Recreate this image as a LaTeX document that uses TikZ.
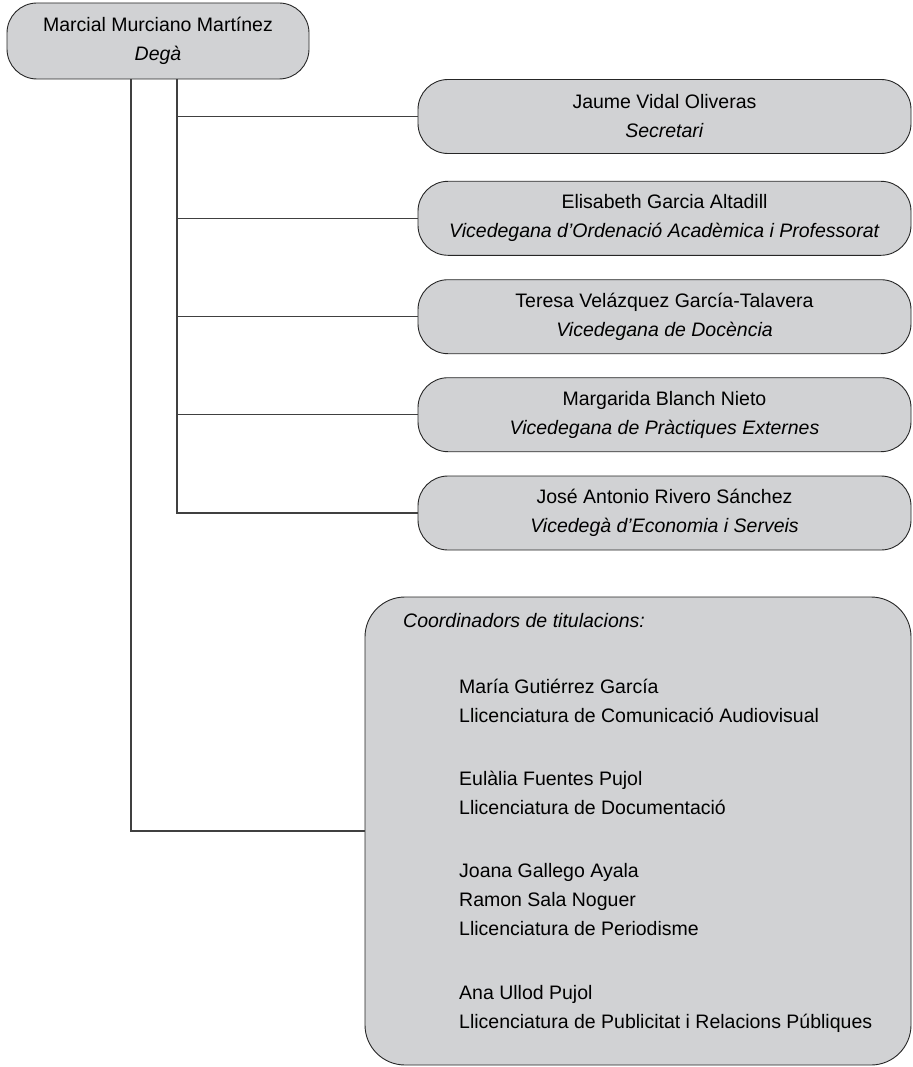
\documentclass[tikz,border=0pt]{standalone}
\usepackage{fontspec}
\setmainfont{Liberation Sans}
\usetikzlibrary{positioning}
\definecolor{cajagris}{RGB}{209,210,212}
\tikzset{
  caja/.style={draw=black!85, line width=0.9pt, fill=cajagris, rounded corners=30pt,
    align=center, inner sep=0pt, font=\fontsize{19.5}{29}\selectfont},
  linea/.style={draw=black!75, line width=1.3pt},
  texto/.style={anchor=base west, inner sep=0pt, font=\fontsize{19.5}{29}\selectfont}
}
\begin{document}
\begin{tikzpicture}[x=1pt, y=-1pt] % {{{
\useasboundingbox (0,0) rectangle (912,1067);
% Dega {{{
\node[caja, minimum width=302pt, minimum height=76pt] (dega) at (158,41)
  {Marcial Murciano Martínez\\\textit{Degà}};
\coordinate (troncA) at (131,0);
\coordinate (troncB) at (177,0);
% }}}
% Equip deganal {{{
\foreach \nom/\carrec/\y [count=\i] in {
    Jaume Vidal Oliveras/Secretari/116.5,
    Elisabeth Garcia Altadill/Vicedegana d’Ordenació Acadèmica i Professorat/218.3,
    Teresa Velázquez García-Talavera/Vicedegana de Docència/316.7,
    Margarida Blanch Nieto/Vicedegana de Pràctiques Externes/414.7,
    José Antonio Rivero Sánchez/Vicedegà d’Economia i Serveis/513} {
  \node[caja, minimum width=493pt, minimum height=74pt] (equip\i) at (664.5,\y)
    {\nom\\\textit{\carrec}};
}
\foreach \i in {1,...,4} {
  \draw[linea] (equip\i.west) -- (equip\i.west -| troncB);
}
\draw[linea] (dega.south -| troncB) |- (equip5.west);
% }}}
% Coordinadors {{{
\node[caja, rounded corners=40pt, minimum width=546pt, minimum height=468pt] (coord) at (638,831) {};
\draw[linea] (dega.south -| troncA) |- (coord.west);
\node[texto] (titol) at (403,627) {\textit{Coordinadors de titulacions:}};
\foreach \y/\txt [count=\i] in {
    693/María Gutiérrez García,
    722/Llicenciatura de Comunicació Audiovisual,
    785/Eulàlia Fuentes Pujol,
    814/Llicenciatura de Documentació,
    877/Joana Gallego Ayala,
    906/Ramon Sala Noguer,
    935/Llicenciatura de Periodisme,
    999/Ana Ullod Pujol,
    1028/Llicenciatura de Publicitat i Relacions Públiques} {
  \node[texto] (linia\i) at (459,\y) {\txt};
}
% }}}
\end{tikzpicture} % }}}
\end{document}
